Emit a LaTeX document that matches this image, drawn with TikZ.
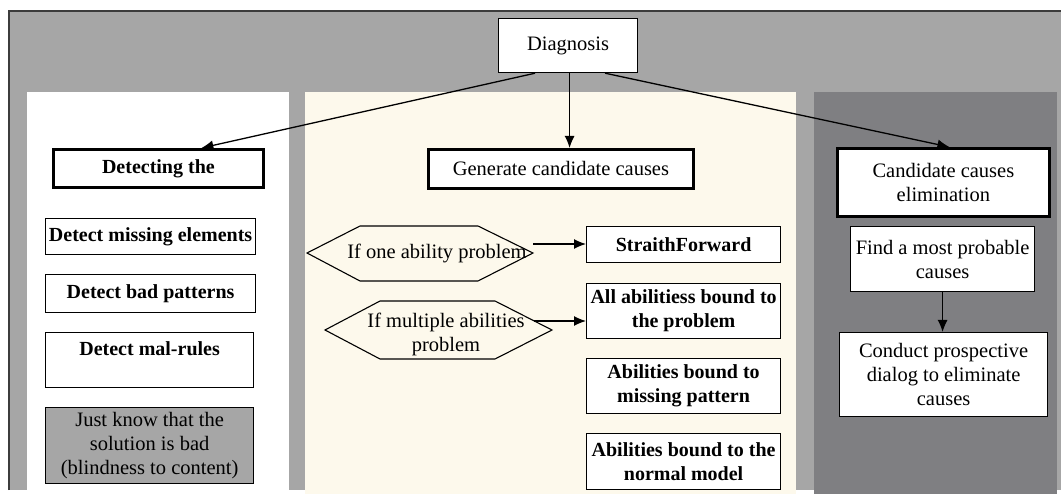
\documentclass[tikz,border=0pt]{standalone}
\usepackage{fontspec}
\setmainfont{Liberation Serif}
\usetikzlibrary{arrows.meta}
\definecolor{framegray}{HTML}{A6A6A6}
\definecolor{darkpanel}{HTML}{7F7F82}
\definecolor{cream}{HTML}{FDF9EC}
\definecolor{edgegray}{HTML}{3C3C3C}
\begin{document}
\begin{tikzpicture}[x=1pt,y=-1pt,
  box/.style={draw, fill=white, line width=1.2pt, align=center, inner sep=1pt,
    anchor=north west, font=\fontsize{20.5}{24}\selectfont},
  headbox/.style={box, line width=2.8pt},
  boldbox/.style={box, font=\fontsize{20}{24}\selectfont\bfseries},
  hexline/.style={draw, line width=1.1pt},
  hextext/.style={align=center, inner sep=0pt, font=\fontsize{20.5}{24}\selectfont},
  flow/.style={line width=1.3pt, -{Latex[length=12pt,width=10pt]}}]
\useasboundingbox (0,0) rectangle (1061,494);

% background frame and the three columns
\fill[framegray] (9,11) rectangle (1061,490);
\draw[edgegray, line width=2pt] (9,490) -- (9,11) -- (1061,11);
\fill[white] (27,92) rectangle (289,494);
\fill[cream] (305,92) rectangle (796,494);
\fill[darkpanel] (814,92) rectangle (1057,494);

% top node
\node[box, minimum width=139pt, minimum height=54pt] (diag) at (498,18) {Diagnosis};

% left column
\node[headbox, font=\fontsize{20}{24}\selectfont\bfseries, minimum width=210pt, minimum height=38pt] (det) at (52,148) {Detecting the};
\node[boldbox, minimum width=210pt, minimum height=36pt] (miss) at (45,218) {Detect missing elements};
\node[boldbox, minimum width=210pt, minimum height=38pt] (bad) at (45,274) {Detect bad patterns};
\node[boldbox, minimum width=208pt, minimum height=55pt] (mal) at (45,332) {Detect mal-rules\\ \mbox{}};
\node[box, fill=framegray, minimum width=208pt, minimum height=76pt] (blind) at (45,407)
  {Just know that the\\ solution is bad\\ (blindness to content)};

% middle column
\node[headbox, minimum width=265pt, minimum height=39pt] (gen) at (427,148) {Generate candidate causes};
\node[boldbox, minimum width=194pt, minimum height=36pt] (sf) at (586,226) {StraithForward};
\node[boldbox, minimum width=194pt, minimum height=55pt] (aab) at (586,283) {All abilitiess bound to\\ the problem};
\node[boldbox, minimum width=194pt, minimum height=55pt] (abm) at (586,358) {Abilities bound to\\ missing pattern};
\node[boldbox, minimum width=194pt, minimum height=56pt] (abn) at (586,433) {Abilities bound to the\\ normal model};

% decision hexagons
\draw[hexline] (307,253) -- (360,226) -- (478,226) -- (533,253) -- (478,281) -- (360,281) -- cycle;
\node[hextext] (one) at (437,253) {If one ability problem};
\draw[hexline] (325,330) -- (380,301) -- (495,301) -- (552,330) -- (495,359) -- (380,359) -- cycle;
\node[hextext] (multi) at (446,334) {If multiple abilities\\ problem};
\coordinate (onetip) at (533,244);
\coordinate (multitip) at (534,321);

% right column
\node[headbox, minimum width=212pt, minimum height=68pt] (elim) at (836,147) {Candidate causes\\ elimination};
\node[box, minimum width=184pt, minimum height=65pt] (find) at (850,226) {Find a most probable\\ causes};
\node[box, minimum width=208pt, minimum height=84pt] (cond) at (839,332) {Conduct prospective\\ dialog to eliminate\\ causes};

% connectors
\draw[flow] ([xshift=-33pt]diag.south) -- ([xshift=43pt]det.north);
\draw[flow] ([xshift=1.5pt]diag.south) -- ([xshift=1.5pt]diag.south |- gen.north);
\draw[flow] ([xshift=37pt]diag.south) -- ([xshift=6pt]elim.north);
\draw[flow] (onetip) -- (onetip -| sf.west);
\draw[flow] (multitip) -- (multitip -| aab.west);
\draw[flow] (find.south) -- (find.south |- cond.north);
\end{tikzpicture}
\end{document}
